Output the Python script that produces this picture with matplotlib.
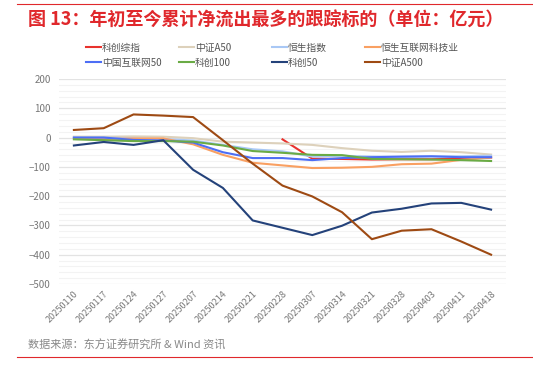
import numpy as np
import matplotlib.pyplot as plt
from matplotlib.lines import Line2D

plt.rcParams['font.family'] = ['Noto Sans CJK SC', 'DejaVu Sans']

dates = ['20250110', '20250117', '20250124', '20250127', '20250207', '20250214',
         '20250221', '20250228', '20250307', '20250314', '20250321', '20250328',
         '20250403', '20250411', '20250418']

kc_zz = [np.nan] * 7 + [-6, -72, -73, -75, -74, -74, -72, -68]
zz_a50 = [3, 3, 4, 3, -2, -14, -17, -20, -25, -36, -45, -49, -45, -50, -58]
hs_zs = [0, 0, -3, -5, -10, -25, -40, -47, -65, -62, -65, -66, -64, -64, -62]
hs_hlw = [-3, -5, -3, -3, -23, -59, -86, -95, -104, -103, -100, -91, -89, -76, -68]
zg_hlw50 = [0, 0, -8, -10, -17, -50, -70, -70, -77, -70, -67, -65, -64, -67, -67]
kc100 = [-6, -9, -12, -12, -14, -27, -46, -52, -59, -60, -73, -74, -75, -77, -80]
kc50 = [-27, -15, -25, -9, -110, -172, -283, -308, -333, -301, -256, -243, -225, -223, -246]
zz_a500 = [26, 32, 79, 75, 70, -9, -89, -164, -201, -255, -347, -318, -313, -355, -400]

series = [
    ('科创综指', kc_zz, '#e8322d'),
    ('中证A50', zz_a50, '#ddd1bb'),
    ('恒生指数', hs_zs, '#a9c8f5'),
    ('恒生互联网科技业', hs_hlw, '#f9a062'),
    ('中国互联网50', zg_hlw50, '#4d6ef5'),
    ('科创100', kc100, '#6aab45'),
    ('科创50', kc50, '#24427a'),
    ('中证A500', zz_a500, '#9e4a13'),
]

fig = plt.figure(figsize=(5.33, 3.72), dpi=100)
ax = fig.add_axes([0.1107, 0.2366, 0.8386, 0.551])

x = np.arange(len(dates))
lines = []
for name, vals, color in series:
    ln, = ax.plot(x, vals, color=color, lw=1.5, label=name)
    lines.append(ln)

ax.set_xlim(-0.5, len(dates) - 0.5)
ax.set_ylim(-500, 200)
ax.set_yticks(np.arange(-500, 201, 100))
ax.set_yticks(np.arange(-500, 201, 20), minor=True)
ax.grid(axis='y', which='major', color='#e3e3e3', lw=0.9)
ax.grid(axis='y', which='minor', color='#f3f3f3', lw=0.8)
ax.set_axisbelow(True)
for s in ax.spines.values():
    s.set_visible(False)
ax.tick_params(axis='both', which='both', length=0, colors='#777777', labelsize=7)
ax.tick_params(axis='y', pad=6)
ax.set_xticks(x)
ax.set_xticklabels(dates, rotation=45, ha='right', rotation_mode='anchor', fontsize=6.5)

# legend: 4 columns, row-wise order, fixed column positions
col_x = [86, 179, 272, 365]
for c in range(4):
    hs = [lines[c], lines[c + 4]]
    fig.legend(hs, [h.get_label() for h in hs], loc='upper left',
               bbox_to_anchor=(col_x[c] / 533, 0.885), frameon=False,
               fontsize=7, handlelength=1.55, handletextpad=0.1,
               labelspacing=0.5, borderpad=0, borderaxespad=0,
               labelcolor='#555555')

fig.add_artist(Line2D([0.032, 1.0], [0.988, 0.988], color='#e0282c', lw=0.8))
fig.add_artist(Line2D([0.032, 1.0], [0.04, 0.04], color='#e0282c', lw=0.8))
fig.text(0.052, 0.945, '图 13：年初至今累计净流出最多的跟踪标的（单位：亿元）',
         color='#e0282c', fontsize=13, fontweight='bold', va='center')
fig.text(0.052, 0.072, '数据来源：东方证券研究所 & Wind 资讯', color='#888888',
         fontsize=8, va='center')

fig.savefig('out.png', dpi=100)
